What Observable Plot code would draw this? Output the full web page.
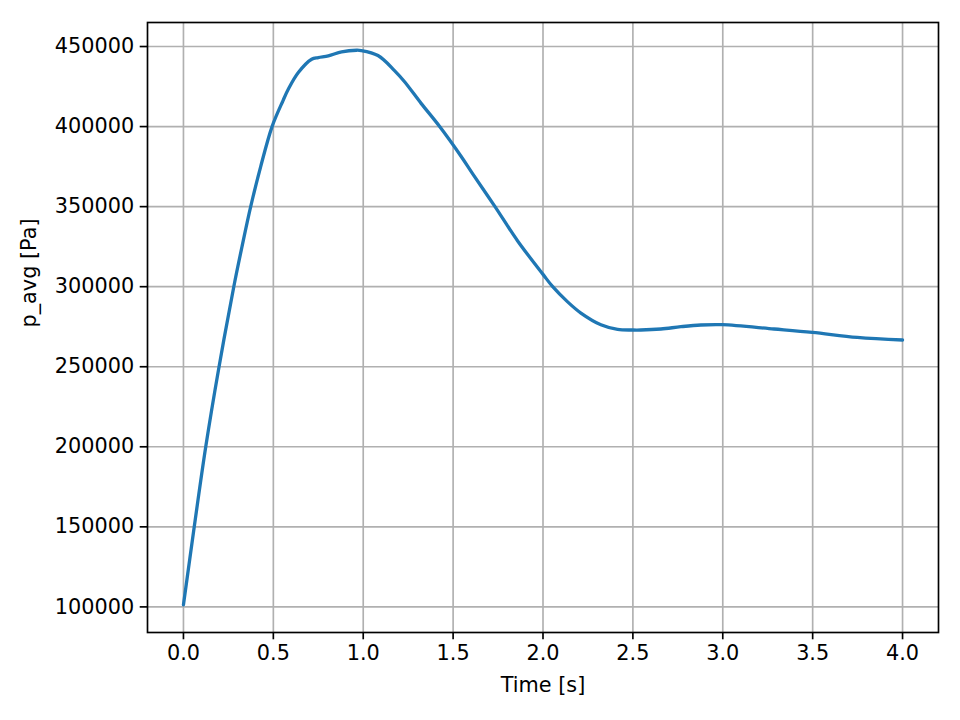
<!DOCTYPE html>
<html>
<head>
<meta charset="utf-8">
<script src="https://cdn.jsdelivr.net/npm/d3@7"></script>
<script src="https://cdn.jsdelivr.net/npm/@observablehq/plot@0.6"></script>
<style>
  html, body { margin: 0; padding: 0; background: white; }
  #chart svg { display: block; }
</style>
</head>
<body>
<div id="chart"></div>
<script>
// Time [s]
const time = [0, 0.06, 0.124, 0.198, 0.28, 0.326, 0.374, 0.43, 0.493, 0.554, 0.583, 0.639, 0.713, 0.75, 0.806, 0.88, 0.963, 0.989, 1.082, 1.174, 1.23, 1.322, 1.424, 1.544, 1.609, 1.733, 1.859, 2.0, 2.054, 2.137, 2.211, 2.322, 2.415, 2.498, 2.544, 2.656, 2.767, 2.878, 2.998, 3.285, 3.498, 3.748, 4.0];
// p_avg [Pa]
const pAvg = [101325, 150000, 200000, 250000, 300000, 325190, 350000, 375190, 400000, 416250, 423300, 433750, 442060, 443125, 444190, 446690, 447690, 447500, 444375, 435000, 428000, 414500, 400190, 381500, 370500, 350000, 328560, 307690, 300000, 290500, 283500, 276200, 273310, 272940, 272940, 273560, 275000, 276060, 276250, 273560, 271440, 268310, 266690];

const xTicks = [0, 0.5, 1.0, 1.5, 2.0, 2.5, 3.0, 3.5, 4.0];
const yTicks = [100000, 150000, 200000, 250000, 300000, 350000, 400000, 450000];
const xLabel = "Time [s]";
const yLabel = "p_avg [Pa]";

const data = time.map((t, i) => ({t, p: pAvg[i]}));

const [x0, x1] = d3.extent(time);
const [y0, y1] = d3.extent(pAvg);
const xPad = (x1 - x0) * 0.05, yPad = (y1 - y0) * 0.05;

const FS = 20.8;
const chart = Plot.plot({
  width: 960,
  height: 720,
  marginLeft: 147,
  marginRight: 22,
  marginTop: 22,
  marginBottom: 88,
  style: {fontFamily: "DejaVu Sans", fontSize: FS + "px", background: "white", color: "black"},
  x: {domain: [x0 - xPad, x1 + xPad]},
  y: {domain: [y0 - yPad, y1 + yPad]},
  marks: [
    Plot.gridX(xTicks, {stroke: "#b0b0b0", strokeOpacity: 1, strokeWidth: 1.67}),
    Plot.gridY(yTicks, {stroke: "#b0b0b0", strokeOpacity: 1, strokeWidth: 1.67}),
    Plot.line(data, {x: "t", y: "p", stroke: "#1f77b4", strokeWidth: 3.3, curve: "catmull-rom"}),
    Plot.frame({stroke: "black", strokeWidth: 1.67}),
    Plot.axisX(xTicks, {tickSize: 7.3, tickPadding: 5, strokeWidth: 1.67, fontSize: FS, tickFormat: d3.format(".1f"), label: null}),
    Plot.axisY(yTicks, {tickSize: 7.3, tickPadding: 6, strokeWidth: 1.67, fontSize: FS, tickFormat: d3.format("d"), label: null}),
    Plot.text([xLabel], {frameAnchor: "bottom", dy: 53, fontSize: FS, fill: "black", lineAnchor: "middle"}),
    Plot.text([yLabel], {frameAnchor: "left", dx: -117.7, rotate: -90, fontSize: FS, fill: "black", lineAnchor: "middle"})
  ]
});
document.getElementById("chart").appendChild(chart);
</script>
</body>
</html>
